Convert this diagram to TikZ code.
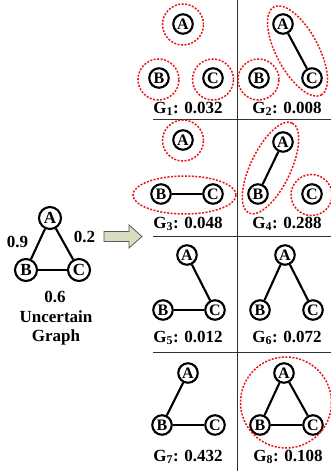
\documentclass[tikz,border=0pt]{standalone}
\usepackage{fontspec}
\setmainfont{Liberation Serif}
\definecolor{arrowfill}{RGB}{216,221,194}
\definecolor{reddash}{RGB}{235,20,20}
\begin{document}
\begin{tikzpicture}[x=1pt,y=-1pt,
  v/.style={circle,draw,line width=2.1pt,minimum size=19.5pt,inner sep=0pt,font=\fontsize{16}{16}\selectfont\bfseries},
  bv/.style={v,minimum size=22pt,font=\fontsize{17}{17}\selectfont\bfseries},
  e/.style={line width=2.1pt},
  rd/.style={draw=reddash,line width=1.5pt,dash pattern=on 2pt off 1.5pt},
  lbl/.style={anchor=base,inner sep=0pt,font=\fontsize{17}{17}\selectfont\bfseries},
  sep/.style={draw=black!80,line width=0.9pt}]
\useasboundingbox (0,0) rectangle (331,471);

% separators
\coordinate (vt) at (237,0);
\coordinate (vb) at (237,471);
\draw[sep] (vt) -- (vb);
\foreach \yy/\nm in {119/h1,236/h2,352/h3}{
  \coordinate (\nm l) at (153,\yy);
  \coordinate (\nm r) at (331,\yy);
  \draw[sep] (\nm l) -- (\nm r);
}

% uncertain graph
\node[bv] (ua) at (50,218) {A};
\node[bv] (ub) at (26,270) {B};
\node[bv] (uc) at (79,270) {C};
\draw[e] (ua) -- (ub);
\draw[e] (ua) -- (uc);
\draw[e] (ub) -- (uc);
\node[lbl] (w1) at (17.5,247) {0.9};
\node[lbl] (w2) at (84.5,242) {0.2};
\node[lbl] (w3) at (55,302) {0.6};
\node[lbl] (t1) at (56,322) {Uncertain};
\node[lbl] (t2) at (56,341) {Graph};

% block arrow
\draw[fill=arrowfill,draw=black!65,line width=0.8pt]
  (104,231.5) -- (129,231.5) -- (129,225) -- (142,236.5) -- (129,248) -- (129,241.5) -- (104,241.5) -- cycle;

% G1
\node[v] (g1a) at (183,24) {A};
\node[v] (g1b) at (159,78) {B};
\node[v] (g1c) at (213,78) {C};
\draw[rd] (183,24.5) circle[radius=20.5pt];
\draw[rd] (158.5,79.5) circle[radius=20.5pt];
\draw[rd] (213,79.5) circle[radius=20.5pt];
\node[lbl] (l1) at (188,113) {G\textsubscript{1}: 0.032};

% G2
\node[v] (g2a) at (283,24) {A};
\node[v] (g2b) at (259,78) {B};
\node[v] (g2c) at (312,78) {C};
\draw[e] (g2a) -- (g2c);
\draw[rd] (258.5,79.5) circle[radius=20.5pt];
\draw[rd,rotate around={-61.8:(297.5,51)}] (297.5,51) ellipse[x radius=50pt,y radius=21pt];
\node[lbl] (l2) at (287,113) {G\textsubscript{2}: 0.008};

% G3
\node[v] (g3a) at (183,140) {A};
\node[v] (g3b) at (161,194) {B};
\node[v] (g3c) at (213,194) {C};
\draw[e] (g3b) -- (g3c);
\draw[rd] (183,140.5) circle[radius=20.5pt];
\draw[rd] (184.5,195) ellipse[x radius=51.5pt,y radius=19pt];
\node[lbl] (l3) at (188,228) {G\textsubscript{3}: 0.048};

% G4
\node[v] (g4a) at (283,142) {A};
\node[v] (g4b) at (258,194) {B};
\node[v] (g4c) at (312,194) {C};
\draw[e] (g4a) -- (g4b);
\draw[rd] (311.5,195) circle[radius=20.5pt];
\draw[rd,rotate around={64.3:(270.5,168)}] (270.5,168) ellipse[x radius=50pt,y radius=20pt];
\node[lbl] (l4) at (287,228) {G\textsubscript{4}: 0.288};

% G5
\node[v] (g5a) at (187,255) {A};
\node[v] (g5b) at (163,310) {B};
\node[v] (g5c) at (215,310) {C};
\draw[e] (g5a) -- (g5c);
\draw[e] (g5b) -- (g5c);
\node[lbl] (l5) at (188,342) {G\textsubscript{5}: 0.012};

% G6
\node[v] (g6a) at (285,255) {A};
\node[v] (g6b) at (260,310) {B};
\node[v] (g6c) at (313,310) {C};
\draw[e] (g6a) -- (g6b);
\draw[e] (g6a) -- (g6c);
\node[lbl] (l6) at (287,342) {G\textsubscript{6}: 0.072};

% G7
\node[v] (g7a) at (188,373) {A};
\node[v] (g7b) at (162,425) {B};
\node[v] (g7c) at (215,425) {C};
\draw[e] (g7a) -- (g7b);
\draw[e] (g7b) -- (g7c);
\node[lbl] (l7) at (188,461) {G\textsubscript{7}: 0.432};

% G8
\node[v] (g8a) at (284,373) {A};
\node[v] (g8b) at (260,425) {B};
\node[v] (g8c) at (313,425) {C};
\draw[e] (g8a) -- (g8b);
\draw[e] (g8a) -- (g8c);
\draw[e] (g8b) -- (g8c);
\draw[rd] (286,402.5) circle[radius=45.5pt];
\node[lbl] (l8) at (288,461) {G\textsubscript{8}: 0.108};
\end{tikzpicture}
\end{document}
